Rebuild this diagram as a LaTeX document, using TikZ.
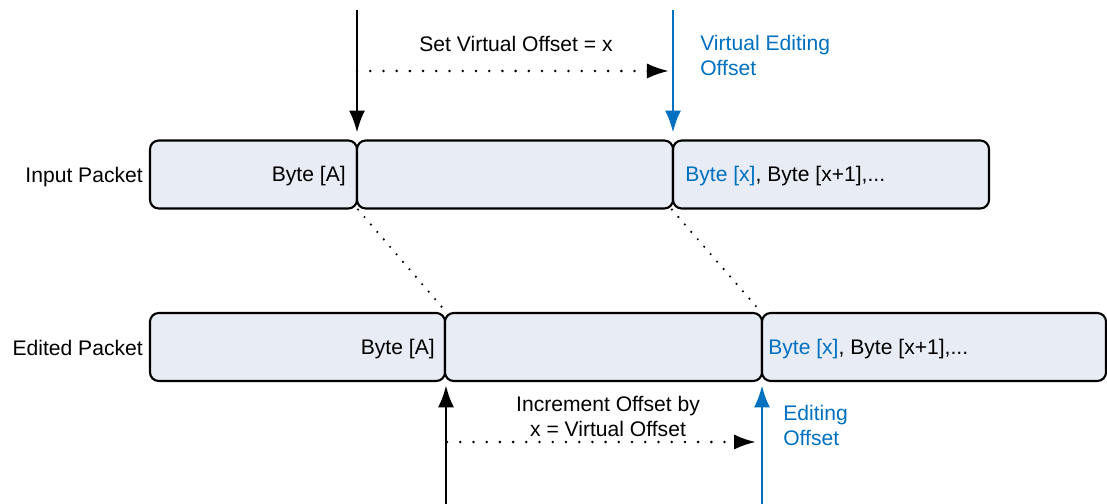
\documentclass[tikz,border=0pt]{standalone}
\usepackage{fontspec}
\setmainfont{Liberation Sans}
\usetikzlibrary{arrows.meta}
\definecolor{offblue}{RGB}{0,112,192}
\definecolor{pktfill}{RGB}{232,236,244}
\tikzset{
  pkt/.style={draw, fill=pktfill, rounded corners=0.22cm, line width=1.5pt,
    minimum height=1.7cm, inner sep=0pt},
  txt/.style={inner sep=0pt, font=\fontsize{15pt}{17.8pt}\selectfont},
  arr/.style={line width=2pt, -{Latex[length=0.55cm,width=0.4cm]}},
  dots/.style={line width=2pt, line cap=round, dash pattern=on 0pt off 9.4pt},
  dotarr/.style={dots, -{Latex[length=0.55cm,width=0.38cm]}},
  slant/.style={line width=1.7pt, line cap=round, dash pattern=on 0pt off 7pt}
}
\begin{document}
\begin{tikzpicture}[x=0.025cm, y=-0.025cm]
  \useasboundingbox (0,0) rectangle (1107,504);
  \node[pkt, minimum width=5.175cm] (inA) at (253.5,174.5) {};
  \node[pkt, minimum width=7.9cm] (inB) at (515,174.5) {};
  \node[pkt, minimum width=7.9cm] (inX) at (831,174.5) {};
  \node[pkt, minimum width=7.375cm] (edA) at (297.5,347) {};
  \node[pkt, minimum width=7.925cm] (edB) at (603.5,347) {};
  \node[pkt, minimum width=8.6cm] (edX) at (934,347) {};

  \node[txt, anchor=base east] (inlbl) at (143,182.5) {Input Packet};
  \node[txt, anchor=base east] (edlbl) at (143,355.5) {Edited Packet};
  \node[txt, anchor=base east] (inbyteA) at (346,181.5) {Byte [A]};
  \node[txt, anchor=base east] (edbyteA) at (435,354.5) {Byte [A]};
  \node[txt, anchor=base west] (inbyteX) at (685,181.5)
    {{\color{offblue}Byte [x]}, Byte [x+1],...};
  \node[txt, anchor=base west] (edbyteX) at (768,354.5)
    {{\color{offblue}Byte [x]}, Byte [x+1],...};

  \node[txt] (setlbl) at (516,44) {Set Virtual Offset = x};
  \node[txt, anchor=west, align=left, text=offblue] (virtlbl) at (700,55.5)
    {Virtual Editing\\Offset};
  \node[txt, align=center] (inclbl) at (608,416.5)
    {Increment Offset by\\x = Virtual Offset};
  \node[txt, anchor=west, align=left, text=offblue] (editlbl) at (783,425.5)
    {Editing\\Offset};

  \coordinate (topA) at (357,10);
  \coordinate (topX) at (673,10);
  \coordinate (botA) at (446,504);
  \coordinate (botX) at (762,504);
  \coordinate (setS) at (357,71);
  \coordinate (setE) at (669,71);
  \coordinate (incS) at (447,442);
  \coordinate (incE) at (756,442);

  \begin{scope}[shorten >=0.17cm]
    \draw[arr] (topA) -- (topA |- inA.north);
    \draw[arr, offblue] (topX) -- (topX |- inX.north);
  \end{scope}
  \begin{scope}[shorten >=0.08cm]
    \draw[arr] (botA) -- (botA |- edA.south);
    \draw[arr, offblue] (botX) -- (botX |- edX.south);
  \end{scope}
  \draw[dotarr] (setS) -- (setE);
  \draw[dotarr] (incS) -- (incE);
  \draw[slant] (inA.south east) -- (edA.north east);
  \draw[slant] (inX.south west) -- (edX.north west);
\end{tikzpicture}
\end{document}
